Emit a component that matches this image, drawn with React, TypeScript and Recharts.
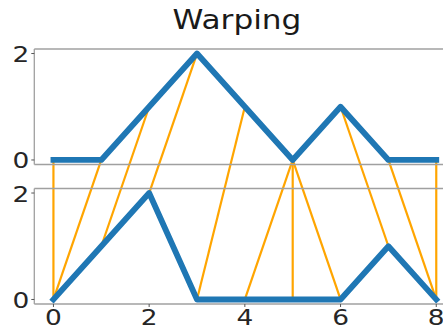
import React from 'react';
import * as RC from 'recharts';

const { ComposedChart, Line, XAxis, YAxis, ReferenceLine } = RC as any;

// ---- data ----
const xValues = [0, 1, 2, 3, 4, 5, 6, 7, 8];
const seriesTop = [0, 0, 1, 2, 1, 0, 1, 0, 0];
const seriesBottom = [0, 1, 2, 0, 0, 0, 0, 1, 0];
// warping path: index in top series -> index in bottom series
const pathTop = [0, 1, 2, 3, 4, 5, 5, 5, 6, 7, 8];
const pathBottom = [0, 0, 1, 2, 3, 4, 5, 6, 7, 8, 8];
const xTicks = [0, 2, 4, 6, 8];
const yTicks = [0, 2];
const title = 'Warping';

// ---- layout (axis limits) ----
const X_DOMAIN = [-0.4, 8.4];
const PANEL_LIM = [-0.085, 2.085];
const TOP_DOMAIN = [-2.706, 2.085];
const BOTTOM_DOMAIN = [-0.085, 4.706];

const data = xValues.map((x, i) => ({ x, a: seriesTop[i], b: seriesBottom[i] }));

const BLUE = '#1f77b4';
const ORANGE = '#FFA500';
const SPINE = '#a0a0a0';
const FONT = '"DejaVu Sans", sans-serif';

const anyRC = RC as any;
const useXS = anyRC.useXAxisScale as any;
const useYS = anyRC.useYAxisScale as any;

function callScale(s: any, v: number): number {
  if (!s) return NaN;
  if (typeof s === 'function') return s(v);
  if (typeof s.map === 'function') return s.map(v);
  return NaN;
}

function Links() {
  const xs = useXS(0);
  const yTop = useYS('top');
  const yBot = useYS('bottom');
  return (
    <g className="links">
      {pathTop.map((ti, k) => {
        const bi = pathBottom[k];
        const x1 = callScale(xs, xValues[ti]);
        const y1 = callScale(yTop, seriesTop[ti]);
        const x2 = callScale(xs, xValues[bi]);
        const y2 = callScale(yBot, seriesBottom[bi]);
        if ([x1, y1, x2, y2].some((v) => !isFinite(v))) return null;
        return <line key={k} x1={x1} y1={y1} x2={x2} y2={y2} stroke={ORANGE} strokeWidth={2.2} />;
      })}
    </g>
  );
}

const YTick = (props: any) => {
  const { x, y, payload, shift = 0 } = props;
  const sx = x + shift;
  return (
    <g>
      <line x1={sx - 3} y1={y} x2={sx} y2={y} stroke="#555" strokeWidth={1} />
      <g transform={`translate(${sx - 5} ${y}) scale(1.2 1)`}>
        <text x={0} y={0} dy={8.5} textAnchor="end" fontSize={22} fontFamily={FONT} fill="#262626">
          {payload.value}
        </text>
      </g>
    </g>
  );
};

const XTick = (props: any) => {
  const { x, y, payload } = props;
  return (
    <g transform={`translate(${x} ${y}) scale(1.2 1)`}>
      <text x={0} y={0} dy={16} textAnchor="middle" fontSize={22} fontFamily={FONT} fill="#262626">
        {payload.value}
      </text>
    </g>
  );
};

export default function App() {
  return (
    <div style={{ position: 'fixed', left: 0, top: 0, width: 443, height: 330, overflow: 'hidden', background: '#fff' }}>
      <ComposedChart width={460} height={330} data={data} margin={{ top: 49, right: 4.6, bottom: 0, left: 0 }}>
        <XAxis
          dataKey="x"
          type="number"
          domain={X_DOMAIN}
          allowDataOverflow
          ticks={xTicks}
          interval={0}
          height={26}
          axisLine={false}
          tickLine={{ stroke: '#555', strokeWidth: 1 }}
          tickSize={3}
          tickMargin={2}
          tick={<XTick />}
        />
        <YAxis
          yAxisId="bottom"
          type="number"
          domain={BOTTOM_DOMAIN}
          allowDataOverflow
          ticks={yTicks}
          interval={0}
          width={1}
          axisLine={false}
          tickLine={false}
          tickSize={0}
          tickMargin={0}
          tick={<YTick shift={0} />}
        />
        <YAxis
          yAxisId="top"
          type="number"
          domain={TOP_DOMAIN}
          allowDataOverflow
          ticks={yTicks}
          interval={0}
          width={33.3}
          axisLine={false}
          tickLine={false}
          tickSize={0}
          tickMargin={0}
          tick={<YTick shift={1} />}
        />
        {/* top panel frame */}
        <ReferenceLine yAxisId="top" y={PANEL_LIM[1]} stroke={SPINE} strokeWidth={1.3} />
        <ReferenceLine yAxisId="top" y={PANEL_LIM[0]} stroke={SPINE} strokeWidth={1.3} />
        <ReferenceLine
          yAxisId="top"
          segment={[{ x: X_DOMAIN[0], y: PANEL_LIM[0] }, { x: X_DOMAIN[0], y: PANEL_LIM[1] }]}
          stroke={SPINE}
          strokeWidth={1.3}
        />
        {/* bottom panel frame */}
        <ReferenceLine yAxisId="bottom" y={PANEL_LIM[1]} stroke={SPINE} strokeWidth={1.3} />
        <ReferenceLine yAxisId="bottom" y={PANEL_LIM[0]} stroke={SPINE} strokeWidth={1.3} />
        <ReferenceLine
          yAxisId="bottom"
          segment={[{ x: X_DOMAIN[0], y: PANEL_LIM[0] }, { x: X_DOMAIN[0], y: PANEL_LIM[1] }]}
          stroke={SPINE}
          strokeWidth={1.3}
        />
        <Line
          yAxisId="bottom"
          dataKey="b"
          stroke={BLUE}
          strokeWidth={5.8}
          strokeLinecap="square"
          strokeLinejoin="round"
          dot={false}
          activeDot={false}
          isAnimationActive={false}
        />
        <Links />
        <Line
          yAxisId="top"
          dataKey="a"
          stroke={BLUE}
          strokeWidth={5.8}
          strokeLinecap="square"
          strokeLinejoin="round"
          dot={false}
          activeDot={false}
          isAnimationActive={false}
        />
      </ComposedChart>
      <svg width={443} height={330} style={{ position: 'absolute', left: 0, top: 0, pointerEvents: 'none' }}>
        <g transform="translate(237 28.5) scale(1.2 1)">
          <text x={0} y={0} textAnchor="middle" fontSize={26} fontFamily={FONT} fill="#1a1a1a">
            {title}
          </text>
        </g>
      </svg>
    </div>
  );
}
